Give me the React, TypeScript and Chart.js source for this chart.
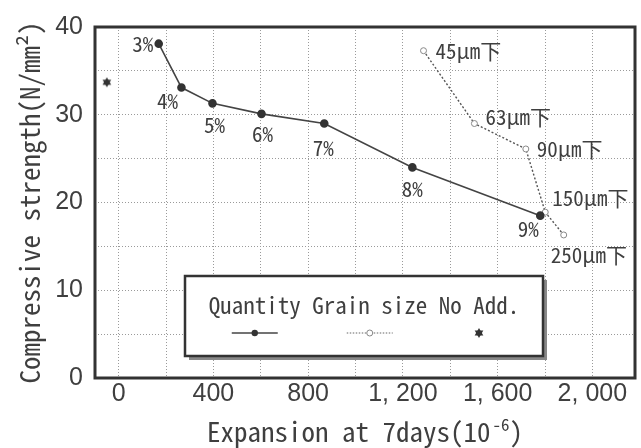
import React, { useEffect, useRef } from 'react';
import { Chart, registerables } from 'chart.js';

Chart.register(...registerables);

// ---- data ----
const quantityLabels = ['3%', '4%', '5%', '6%', '7%', '8%', '9%'];
const quantityExpansion = [169, 265, 396, 603, 868, 1240, 1780];
const quantityStrength = [38.1, 33.1, 31.3, 30.1, 29.0, 24.0, 18.5];

const grainLabels = ['45μm下', '63μm下', '90μm下', '150μm下', '250μm下'];
const grainExpansion = [1287, 1502, 1719, 1801, 1879];
const grainStrength = [37.3, 29.0, 26.1, 18.9, 16.3];

const noAddExpansion = [-50];
const noAddStrength = [33.7];

const seriesNames = ['Quantity', 'Grain size', 'No Add.'];

const xGridValues = [0, 200, 400, 600, 800, 1000, 1200, 1400, 1600, 1800, 2000];
const xLabelValues = [0, 400, 800, 1200, 1600, 2000];
const xLabelTexts = ['0', '400', '800', '1, 200', '1, 600', '2, 000'];
const yLabelValues = [0, 10, 20, 30, 40];

const xTitleParts = ['Expansion at 7days(10', '-6', ')'];
const yTitle = 'Compressive strength(N/mm²)';

// ---- styles ----
const MONO = "'Noto Sans Mono CJK JP', 'Noto Sans CJK JP', 'DejaVu Sans Mono', monospace";
const SANS = "'Liberation Sans', Arial, sans-serif";
const INK = '#3f3f3f';
const quantityLabelOffsets = [[-16, 0], [-14, 13], [2, 22], [1, 20], [-1, 24], [0, 22], [-12, 13]];
const grainLabelOffsets = [[12, 0], [11, -7], [11, 0], [7, -14], [-13, 20]];

function makeStar(r: number): HTMLCanvasElement {
  const c = document.createElement('canvas');
  const s = Math.ceil(r * 2 + 2);
  c.width = s;
  c.height = s;
  const g = c.getContext('2d')!;
  const cx = s / 2, cy = s / 2;
  g.fillStyle = '#333';
  for (const rot of [-Math.PI / 2, Math.PI / 2]) {
    g.beginPath();
    for (let k = 0; k < 3; k++) {
      const a = rot + (k * 2 * Math.PI) / 3;
      const px = cx + r * Math.cos(a), py = cy + r * Math.sin(a);
      if (k === 0) g.moveTo(px, py); else g.lineTo(px, py);
    }
    g.closePath();
    g.fill();
  }
  return c;
}

export default function App() {
  const ref = useRef<HTMLCanvasElement>(null);

  useEffect(() => {
    const canvas = ref.current!;
    const star = makeStar(5);

    const framePlugin = {
      id: 'frame',
      beforeDatasetsDraw(chart: any) {
        const { ctx, chartArea: a } = chart;
        ctx.save();
        ctx.lineWidth = 3;
        ctx.strokeStyle = '#333';
        ctx.strokeRect(a.left, a.top, a.right - a.left, a.bottom - a.top);
        ctx.restore();
      },
    };

    const xTitlePlugin = {
      id: 'xTitle',
      afterDraw(chart: any) {
        const { ctx, chartArea: a } = chart;
        ctx.save();
        ctx.fillStyle = INK;
        ctx.textBaseline = 'alphabetic';
        ctx.textAlign = 'left';
        const mainFont = `27px ${MONO}`;
        const supFont = `17px ${MONO}`;
        ctx.font = mainFont;
        const w0 = ctx.measureText(xTitleParts[0]).width;
        const w2 = ctx.measureText(xTitleParts[2]).width;
        ctx.font = supFont;
        const w1 = ctx.measureText(xTitleParts[1]).width;
        const total = w0 + 2 + w1 + w2;
        let x = (a.left + a.right) / 2 - total / 2;
        const base = 442;
        ctx.font = mainFont;
        ctx.fillText(xTitleParts[0], x, base);
        x += w0 + 2;
        ctx.font = supFont;
        ctx.fillText(xTitleParts[1], x, base - 11);
        x += w1;
        ctx.font = mainFont;
        ctx.fillText(xTitleParts[2], x, base);
        ctx.restore();
      },
    };

    const pointLabelPlugin = {
      id: 'pointLabels',
      afterDatasetsDraw(chart: any) {
        const { ctx } = chart;
        ctx.save();
        ctx.fillStyle = INK;
        ctx.textBaseline = 'middle';
        const m0 = chart.getDatasetMeta(0);
        ctx.font = `21px ${MONO}`;
        ctx.textAlign = 'center';
        m0.data.forEach((pt: any, i: number) => {
          const o = quantityLabelOffsets[i];
          ctx.fillText(quantityLabels[i], pt.x + o[0], pt.y + o[1]);
        });
        const m1 = chart.getDatasetMeta(1);
        ctx.textAlign = 'left';
        m1.data.forEach((pt: any, i: number) => {
          const o = grainLabelOffsets[i];
          ctx.fillText(grainLabels[i], pt.x + o[0], pt.y + o[1]);
        });
        ctx.restore();
      },
    };

    const legendPlugin = {
      id: 'boxLegend',
      afterDraw(chart: any) {
        const { ctx, chartArea: a } = chart;
        const x0 = a.left + 90, y0 = a.top + 249, w = 358, h = 80;
        ctx.save();
        ctx.fillStyle = '#888';
        ctx.fillRect(x0 + 4, y0 + 4, w, h);
        ctx.fillStyle = '#fff';
        ctx.fillRect(x0, y0, w, h);
        ctx.lineWidth = 2.5;
        ctx.strokeStyle = '#333';
        ctx.strokeRect(x0, y0, w, h);
        ctx.font = `23px ${MONO}`;
        ctx.fillStyle = INK;
        ctx.textBaseline = 'middle';
        ctx.textAlign = 'left';
        const labels: string[] = chart.data.datasets.map((d: any) => d.label);
        const full = labels.join(' ');
        const tw = ctx.measureText(full).width;
        const sw = ctx.measureText(' ').width;
        const tx = x0 + (w - tw) / 2;
        ctx.fillText(full, tx, y0 + 29);
        let cur = tx;
        const sy = y0 + 57;
        labels.forEach((lab, i) => {
          const lw = ctx.measureText(lab).width;
          const cx = cur + lw / 2;
          cur += lw + sw;
          if (i === 0) {
            ctx.strokeStyle = '#444';
            ctx.lineWidth = 1.6;
            ctx.setLineDash([]);
            ctx.beginPath();
            ctx.moveTo(cx - 23, sy);
            ctx.lineTo(cx + 23, sy);
            ctx.stroke();
            ctx.fillStyle = '#333';
            ctx.beginPath();
            ctx.arc(cx, sy, 3.2, 0, Math.PI * 2);
            ctx.fill();
          } else if (i === 1) {
            ctx.strokeStyle = '#666';
            ctx.lineWidth = 1.2;
            ctx.setLineDash([1.5, 1.5]);
            ctx.beginPath();
            ctx.moveTo(cx - 23, sy);
            ctx.lineTo(cx + 23, sy);
            ctx.stroke();
            ctx.setLineDash([]);
            ctx.fillStyle = '#fff';
            ctx.strokeStyle = '#888';
            ctx.lineWidth = 1;
            ctx.beginPath();
            ctx.arc(cx, sy, 3, 0, Math.PI * 2);
            ctx.fill();
            ctx.stroke();
          } else {
            ctx.drawImage(star, cx - star.width / 2, sy - star.height / 2);
          }
        });
        ctx.restore();
      },
    };

    const chart = new Chart(canvas, {
      type: 'scatter',
      data: {
        datasets: [
          {
            label: seriesNames[0],
            data: quantityExpansion.map((x, i) => ({ x, y: quantityStrength[i] })),
            showLine: true,
            borderColor: '#444',
            borderWidth: 1.6,
            pointRadius: 3.5,
            pointBackgroundColor: '#333',
            pointBorderColor: '#333',
          },
          {
            label: seriesNames[1],
            data: grainExpansion.map((x, i) => ({ x, y: grainStrength[i] })),
            showLine: true,
            borderColor: '#555',
            borderWidth: 1.4,
            borderDash: [2, 2],
            pointRadius: 3,
            pointBackgroundColor: '#fff',
            pointBorderColor: '#888',
            pointBorderWidth: 1,
          },
          {
            label: seriesNames[2],
            data: noAddExpansion.map((x, i) => ({ x, y: noAddStrength[i] })),
            showLine: false,
            pointStyle: star as any,
            pointRadius: 5,
          },
        ],
      },
      options: {
        animation: false,
        responsive: false,
        devicePixelRatio: 1,
        layout: { padding: { top: 24, right: 6, left: 0, bottom: 0 } },
        plugins: { legend: { display: false }, tooltip: { enabled: false } },
        scales: {
          x: {
            type: 'linear',
            min: -100,
            max: 2180,
            afterBuildTicks: (s: any) => {
              s.ticks = xGridValues.map((v) => ({ value: v }));
            },
            afterFit: (s: any) => {
              s.height = 70;
            },
            ticks: {
              autoSkip: false,
              maxRotation: 0,
              padding: 1,
              color: INK,
              font: { family: SANS, size: 25 },
              callback: (v: any) => {
                const k = xLabelValues.indexOf(Number(v));
                return k >= 0 ? xLabelTexts[k] : '';
              },
            },
            grid: { color: '#9a9a9a', lineWidth: 1, drawTicks: false },
            border: { display: false, dash: [1, 2] },
            title: { display: false },
          },
          y: {
            type: 'linear',
            min: 0,
            max: 40,
            afterFit: (s: any) => {
              s.width = 95;
            },
            ticks: {
              stepSize: 5,
              padding: 12,
              color: INK,
              font: { family: SANS, size: 25 },
              callback: (v: any) => (yLabelValues.includes(Number(v)) ? String(v) : ''),
            },
            grid: { color: '#9a9a9a', lineWidth: 1, drawTicks: false },
            border: { display: false, dash: [1, 2] },
            title: {
              display: true,
              text: yTitle,
              color: INK,
              font: { family: MONO, size: 27 },
              padding: { top: 14, bottom: 0 },
            },
          },
        },
      } as any,
      plugins: [framePlugin, pointLabelPlugin, xTitlePlugin, legendPlugin],
    });
    return () => chart.destroy();
  }, []);

  return (
    <div style={{ position: 'absolute', left: 0, top: 0, width: 641, height: 448, background: '#fff' }}>
      <canvas ref={ref} width={641} height={448} style={{ display: 'block' }} />
    </div>
  );
}
